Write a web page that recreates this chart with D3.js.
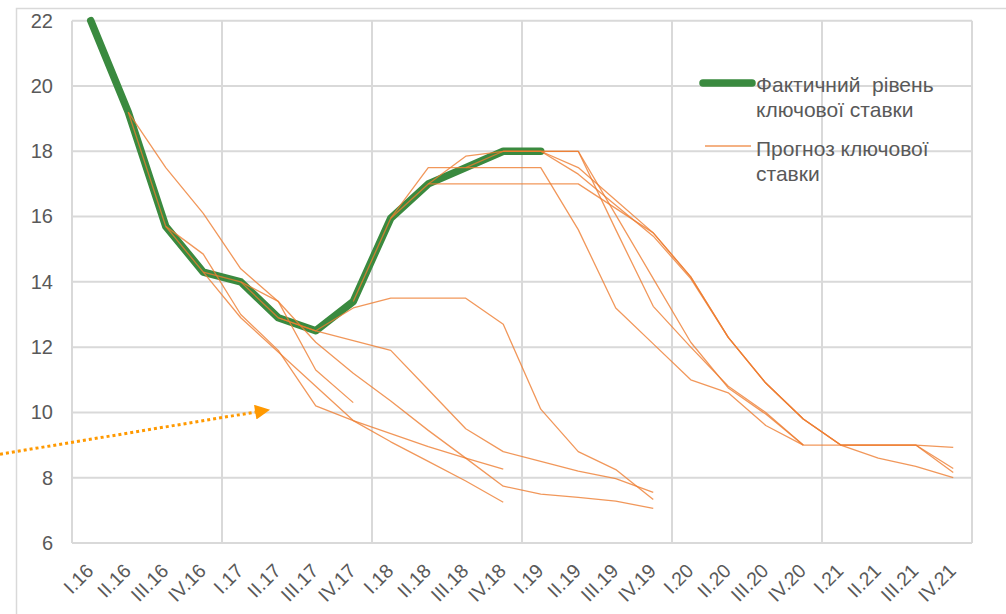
<!DOCTYPE html>
<html><head><meta charset="utf-8">
<script src="https://cdn.jsdelivr.net/npm/d3@7"></script>
<style>
html,body{margin:0;padding:0;background:#fff;}
svg{display:block;font-family:"Liberation Sans",Arial,sans-serif;}
</style></head>
<body>
<svg id="chart" width="1006" height="614"></svg>
<script>
// ---- data ----
const categories = ["I.16","II.16","III.16","IV.16","I.17","II.17","III.17","IV.17",
  "I.18","II.18","III.18","IV.18","I.19","II.19","III.19","IV.19",
  "I.20","II.20","III.20","IV.20","I.21","II.21","III.21","IV.21"];
const yTicks = [6, 8, 10, 12, 14, 16, 18, 20, 22];

// actual key rate, from I.16
const actualStart = "I.16";
const actualRate = [22, 19.2, 15.7, 14.3, 14.0, 12.9, 12.5, 13.4, 15.95, 17.0, 17.5, 18.0, 18.0];

// key rate forecasts: first category + values
const fcA = { from: "II.16", v: [19.2, 17.5, 16.1, 14.4, 13.4, 11.3, 10.3] };
const fcB = { from: "II.16", v: [19.2, 15.7, 14.85, 13.0, 11.9, 10.2, 9.75, 9.35, 8.95, 8.6, 8.26] };
const fcC = { from: "III.16", v: [15.7, 14.3, 12.9, 11.85, 10.8, 9.75, 9.1, 8.5, 7.9, 7.25] };
const fcD = { from: "IV.16", v: [14.3, 14.0, 13.4, 12.15, 11.2, 10.35, 9.45, 8.6, 7.74, 7.5, 7.4, 7.28, 7.06] };
const fcE = { from: "I.17", v: [14.0, 12.9, 12.5, 12.2, 11.9, 10.7, 9.5, 8.8, 8.5, 8.2, 7.97, 7.55] };
const fcF = { from: "II.17", v: [12.9, 12.5, 13.2, 13.5, 13.5, 13.5, 12.7, 10.1, 8.8, 8.25, 7.33] };
const fcG = { from: "IV.17", v: [13.4, 15.95, 17.5, 17.5, 17.5, 17.5, 15.6, 13.2, 12.1, 11.0, 10.6, 9.6, 9.0] };
const fcH = { from: "I.18", v: [15.95, 17.0, 17.0, 17.0, 17.0, 17.0, 16.25, 15.5, 14.15, 12.3, 10.9, 9.8, 9.0, 9.0, 9.0, 8.16] };
const fcI = { from: "II.18", v: [17.0, 17.85, 18.0, 18.0, 17.5, 16.5, 15.5, 14.15, 12.3, 10.9, 9.8, 9.0, 8.6, 8.35, 8.0] };
const fcJ = { from: "III.18", v: [17.5, 18.0, 18.0, 17.3, 16.35, 15.4, 14.1, 12.3, 10.9, 9.8, 9.0, 9.0, 9.0, 8.28] };
const fcK = { from: "IV.18", v: [18.0, 18.0, 18.0, 15.6, 13.25, 12.0, 10.8, 10.0, 9.0] };
const fcL = { from: "IV.18", v: [18.0, 18.0, 18.0, 16.05, 14.1, 12.15, 10.75, 9.95, 9.0, 9.0, 9.0, 9.0, 8.93] };
const forecasts = [fcA, fcB, fcC, fcD, fcE, fcF, fcG, fcH, fcI, fcJ, fcK, fcL];

const legendLabels = [["Фактичний  рівень", "ключової ставки"], ["Прогноз ключової", "ставки"]];

// annotation arrow (category index, value)
const arrowFrom = [-2.42, 8.72];
const arrowTo = [4.86, 10.1];

// ---- drawing ----
const svg = d3.select("#chart");
const L = 72, R = 972, T = 20.7, B = 543;
const grid = "#d9d9d9", txt = "#595959";
const green = "#3A8A3F", orange = "#ED7D31";

const x = d3.scaleBand().domain(categories).range([L, R]).padding(0);
const xc = c => x(c) + x.bandwidth() / 2;
const xi = d3.scaleLinear().domain([-0.5, categories.length - 0.5]).range([L, R]);
const y = d3.scaleLinear().domain([6, 22]).range([B, T]);

// outer chart border
svg.append("path").attr("d", "M16.5,620 V8.5 H1010")
  .attr("fill", "none").attr("stroke", grid).attr("stroke-width", 1.5);

// horizontal gridlines
svg.append("g").selectAll("line").data(yTicks).join("line")
  .attr("x1", L).attr("x2", R).attr("y1", d => y(d)).attr("y2", d => y(d))
  .attr("stroke", grid).attr("stroke-width", 2);
// vertical gridlines every 4 quarters
const vLines = categories.filter((c, i) => i % 4 === 0).map(c => x(c)).concat([R]);
svg.append("g").selectAll("line").data(vLines).join("line")
  .attr("x1", d => d).attr("x2", d => d).attr("y1", T).attr("y2", B)
  .attr("stroke", grid).attr("stroke-width", 2);

// y axis labels
const yAxis = svg.append("g").attr("transform", `translate(${L},0)`)
  .call(d3.axisLeft(y).tickValues(yTicks).tickSize(0).tickPadding(19));
yAxis.select(".domain").remove();
yAxis.selectAll("text").attr("font-size", 20).attr("fill", txt)
  .attr("font-family", "Liberation Sans, Arial, sans-serif");

// x axis labels
const xAxis = svg.append("g").attr("transform", `translate(0,${B})`)
  .call(d3.axisBottom(x).tickSize(0).tickPadding(0));
xAxis.select(".domain").remove();
xAxis.selectAll("text")
  .attr("font-size", 19.5).attr("fill", txt)
  .attr("font-family", "Liberation Sans, Arial, sans-serif")
  .attr("text-anchor", "end")
  .attr("dy", 0).attr("y", 0)
  .attr("transform", "translate(4,29) rotate(-45)");

// lines
const line = d3.line().x(d => xc(d.c)).y(d => y(d.v));
const actualPts = actualRate.map((v, i) => ({ c: categories[categories.indexOf(actualStart) + i], v }));
svg.append("path").datum(actualPts).attr("d", line)
  .attr("fill", "none").attr("stroke", green).attr("stroke-width", 7.5)
  .attr("stroke-linejoin", "round").attr("stroke-linecap", "round");

svg.append("g").selectAll("path").data(forecasts).join("path")
  .attr("d", f => line(f.v.map((v, i) => ({ c: categories[categories.indexOf(f.from) + i], v }))))
  .attr("fill", "none").attr("stroke", orange).attr("stroke-width", 1.3)
  .attr("stroke-opacity", 0.8).attr("stroke-linejoin", "round");

// arrow annotation
const defs = svg.append("defs");
defs.append("marker").attr("id", "ah").attr("viewBox", "0 0 10 10")
  .attr("refX", 2).attr("refY", 5).attr("markerWidth", 5.5).attr("markerHeight", 5)
  .attr("orient", "auto").attr("markerUnits", "strokeWidth")
  .append("path").attr("d", "M0,0 L10,5 L0,10 Z").attr("fill", "#FF9900");
const ax1 = xi(arrowFrom[0]), ay1 = y(arrowFrom[1]);
const ax2 = xi(arrowTo[0]), ay2 = y(arrowTo[1]);
const ang = Math.atan2(ay2 - ay1, ax2 - ax1);
svg.append("line")
  .attr("x1", ax1).attr("y1", ay1)
  .attr("x2", ax2 - 15 * Math.cos(ang)).attr("y2", ay2 - 15 * Math.sin(ang))
  .attr("stroke", "#FF9900").attr("stroke-width", 3).attr("stroke-dasharray", "3,3")
  .attr("marker-end", "url(#ah)");

// legend
const lg = svg.append("g");
lg.append("line").attr("x1", 703).attr("x2", 752).attr("y1", 83).attr("y2", 83)
  .attr("stroke", green).attr("stroke-width", 7.5).attr("stroke-linecap", "round");
lg.append("line").attr("x1", 705).attr("x2", 751).attr("y1", 146).attr("y2", 146)
  .attr("stroke", orange).attr("stroke-width", 1.3).attr("stroke-opacity", 0.8);
const lgY = [92, 156];
legendLabels.forEach((lines, k) => {
  lines.forEach((s, j) => {
    lg.append("text").attr("x", 756).attr("y", lgY[k] + j * 24.5)
      .attr("font-size", 21).attr("fill", txt).style("white-space", "pre")
      .text(s);
  });
});
</script>
</body></html>
